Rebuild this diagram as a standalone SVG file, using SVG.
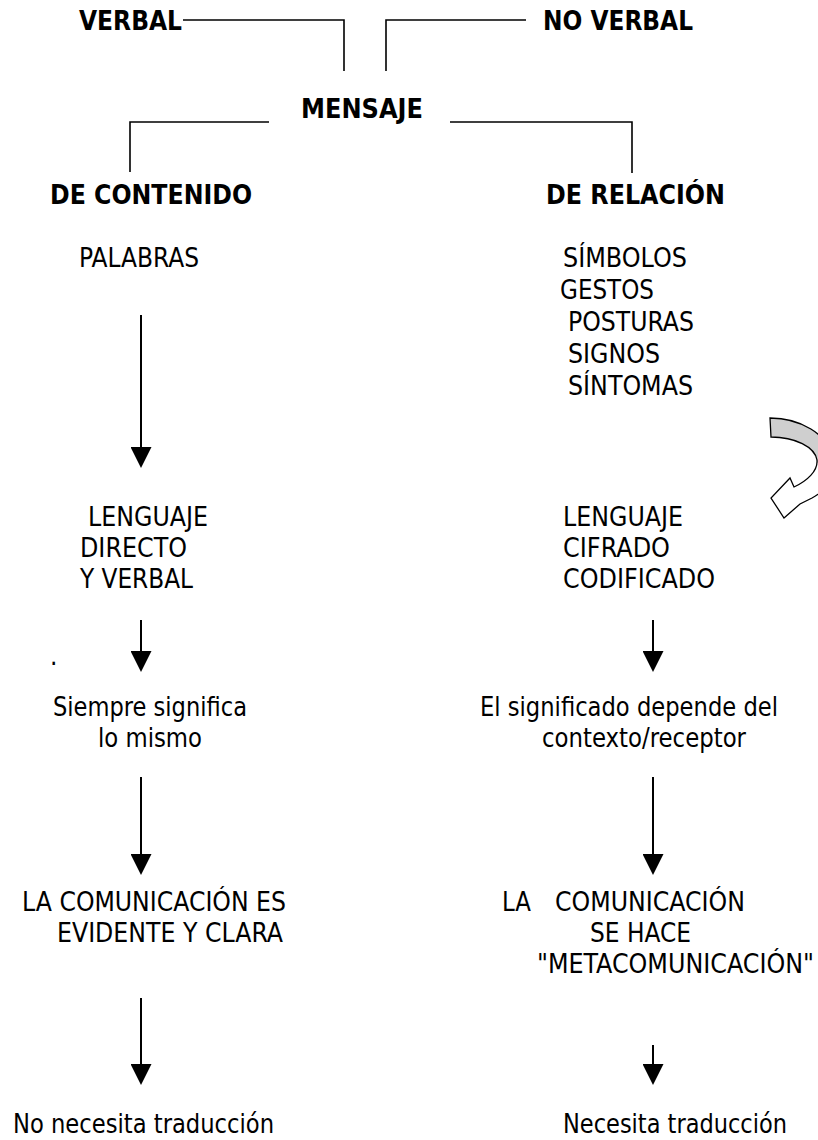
<svg xmlns="http://www.w3.org/2000/svg" width="818" height="1140" viewBox="0 0 818 1140">
<style>
text{font-family:"DejaVu Sans Condensed","DejaVu Sans",Verdana,sans-serif;font-size:26px;fill:#000}
.b{font-weight:bold}
.br{fill:none;stroke:#000;stroke-width:1.6}
.ar{stroke:#000;stroke-width:2;marker-end:url(#head)}
</style>
<defs>
<marker id="head" viewBox="0 -10.5 21 21" refX="0" refY="0" markerWidth="21" markerHeight="21" markerUnits="userSpaceOnUse" orient="auto">
<path d="M0,-10.5 L21,0 L0,10.5 Z" fill="#000"/>
</marker>
</defs>
<rect width="818" height="1140" fill="#fff"/>
<g id="connectors">
<polyline class="br" points="183,20 344,20 344,71"/>
<polyline class="br" points="386,71 386,20 526,20"/>
<polyline class="br" points="269,122 130,122 130,172"/>
<polyline class="br" points="450,122 632,122 632,173"/>
<line class="ar" x1="141" y1="315" x2="141" y2="447"/>
<line class="ar" x1="141" y1="620" x2="141" y2="651"/>
<line class="ar" x1="141" y1="777" x2="141" y2="854"/>
<line class="ar" x1="141" y1="998" x2="141" y2="1064"/>
<line class="ar" x1="653" y1="620" x2="653" y2="651"/>
<line class="ar" x1="653" y1="777" x2="653" y2="854"/>
<line class="ar" x1="653" y1="1045" x2="653" y2="1064"/>
<g id="curved-arrow">
<path d="M770,418 C800,418 828,434 833,458 L817,463 C815,447 795,437 771,437 Z" fill="#cfcfcf"/>
<path d="M770,418 C800,418 828,434 833,458 C837,476 828,489 812,498 L800,504 L784,518 L771,498 L790,478 L794,487 C807,481 818,471 817,460 C815,447 795,437 771,437 Z" fill="none" stroke="#000" stroke-width="1.3" stroke-linejoin="miter"/>
</g>
</g>
<g id="verbal"><text class="b" x="79" y="30" textLength="103" lengthAdjust="spacingAndGlyphs">VERBAL</text></g>
<g id="no-verbal"><text class="b" x="543" y="30" textLength="150" lengthAdjust="spacingAndGlyphs">NO VERBAL</text></g>
<g id="mensaje"><text class="b" x="301" y="118" textLength="122" lengthAdjust="spacingAndGlyphs">MENSAJE</text></g>
<g id="de-contenido"><text class="b" x="50" y="204" textLength="202" lengthAdjust="spacingAndGlyphs">DE CONTENIDO</text></g>
<g id="de-relacion"><text class="b" x="546" y="204" textLength="179" lengthAdjust="spacingAndGlyphs">DE RELACIÓN</text></g>
<g id="palabras"><text x="79" y="267" textLength="120" lengthAdjust="spacingAndGlyphs">PALABRAS</text></g>
<g id="simbolos">
<text x="563" y="267" textLength="124" lengthAdjust="spacingAndGlyphs">SÍMBOLOS</text>
<text x="560" y="299" textLength="94" lengthAdjust="spacingAndGlyphs">GESTOS</text>
<text x="568" y="331" textLength="126" lengthAdjust="spacingAndGlyphs">POSTURAS</text>
<text x="568" y="363" textLength="92" lengthAdjust="spacingAndGlyphs">SIGNOS</text>
<text x="568" y="395" textLength="125" lengthAdjust="spacingAndGlyphs">SÍNTOMAS</text>
</g>
<g id="lenguaje-directo">
<text x="88" y="526" textLength="120" lengthAdjust="spacingAndGlyphs">LENGUAJE</text>
<text x="80" y="557" textLength="107" lengthAdjust="spacingAndGlyphs">DIRECTO</text>
<text x="80" y="588" textLength="113" lengthAdjust="spacingAndGlyphs">Y VERBAL</text>
</g>
<g id="lenguaje-cifrado">
<text x="563" y="526" textLength="120" lengthAdjust="spacingAndGlyphs">LENGUAJE</text>
<text x="563" y="557" textLength="107" lengthAdjust="spacingAndGlyphs">CIFRADO</text>
<text x="563" y="588" textLength="152" lengthAdjust="spacingAndGlyphs">CODIFICADO</text>
</g>
<g id="dot"><text x="50" y="665">.</text></g>
<g id="siempre">
<text x="53" y="716" textLength="194" lengthAdjust="spacingAndGlyphs">Siempre significa</text>
<text x="98" y="747" textLength="104" lengthAdjust="spacingAndGlyphs">lo mismo</text>
</g>
<g id="depende">
<text x="480" y="716" textLength="298" lengthAdjust="spacingAndGlyphs">El significado depende del</text>
<text x="542" y="747" textLength="204" lengthAdjust="spacingAndGlyphs">contexto/receptor</text>
</g>
<g id="evidente">
<text x="22" y="911" textLength="264" lengthAdjust="spacingAndGlyphs">LA COMUNICACIÓN ES</text>
<text x="57" y="942" textLength="226" lengthAdjust="spacingAndGlyphs">EVIDENTE Y CLARA</text>
</g>
<g id="metacomunicacion">
<text y="911"><tspan x="502" textLength="29" lengthAdjust="spacingAndGlyphs">LA</tspan><tspan x="555" textLength="190" lengthAdjust="spacingAndGlyphs">COMUNICACIÓN</tspan></text>
<text x="590" y="942" textLength="101" lengthAdjust="spacingAndGlyphs">SE HACE</text>
<text x="537" y="973" textLength="277" lengthAdjust="spacingAndGlyphs">"METACOMUNICACIÓN"</text>
</g>
<g id="no-necesita"><text x="13" y="1133" textLength="261" lengthAdjust="spacingAndGlyphs">No necesita traducción</text></g>
<g id="necesita"><text x="563" y="1133" textLength="224" lengthAdjust="spacingAndGlyphs">Necesita traducción</text></g>
</svg>
